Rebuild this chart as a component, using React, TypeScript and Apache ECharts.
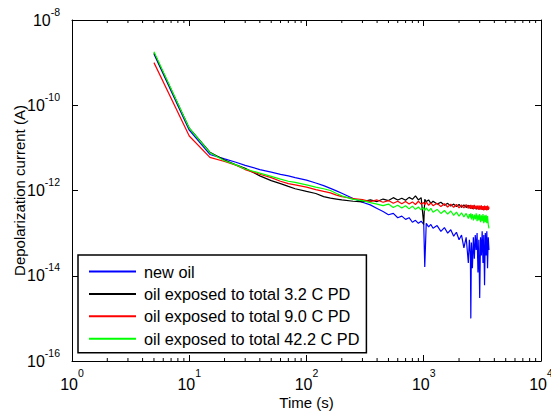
import React, { useEffect, useRef } from 'react';
import * as echarts from 'echarts';

const times = [5, 10, 15, 20, 25, 30, 40, 50, 60, 70, 80, 100, 120, 140, 160, 180, 200, 250, 300, 350, 400, 450, 500, 550, 600, 650, 700, 750, 800, 850, 900, 950, 1000, 1020, 1050, 1100, 1150, 1200, 1300, 1400, 1500, 1600, 1700, 1800, 1900, 2000, 2100, 2200, 2300, 2400, 2450, 2500, 2520, 2550, 2600, 2650, 2700, 2750, 2800, 2850, 2900, 2950, 3000, 3050, 3100, 3150, 3200, 3250, 3300, 3350, 3400, 3450, 3500, 3550, 3600];

const newOil = [1.6e-9, 2.6e-11, 7.0e-12, 5.5e-12, 4.6e-12, 3.9e-12, 3.1e-12, 2.7e-12, 2.4e-12, 2.2e-12, 2.0e-12, 1.75e-12, 1.5e-12, 1.3e-12, 1.12e-12, 9.8e-13, 8.6e-13, 6.5e-13, 5.3e-13, 4.6e-13, 3.8e-13, 3.2e-13, 2.7e-13, 2.9e-13, 2.3e-13, 2.5e-13, 2.1e-13, 2.3e-13, 1.8e-13, 2.0e-13, 1.7e-13, 1.9e-13, 1.6e-13, 1.6e-14, 1.7e-13, 1.4e-13, 1.6e-13, 1.3e-13, 1.5e-13, 1.1e-13, 1.35e-13, 1.0e-13, 1.2e-13, 8.5e-14, 1.05e-13, 7e-14, 9e-14, 4.5e-14, 8e-14, 2.0e-14, 7e-14, 3e-14, 1.0e-15, 6e-14, 1.5e-14, 8e-14, 2.5e-14, 9e-14, 4e-14, 1.0e-13, 1.2e-14, 7e-14, 3e-15, 8e-14, 3e-14, 1.1e-13, 2e-14, 9e-14, 6e-15, 1.0e-13, 3e-14, 1.1e-13, 1.5e-14, 8e-14, 4e-14];

const pd32 = [1.7e-9, 2.9e-11, 7.9e-12, 5.2e-12, 4.0e-12, 3.3e-12, 2.2e-12, 1.7e-12, 1.45e-12, 1.25e-12, 1.1e-12, 9.5e-13, 8.5e-13, 7.2e-13, 6.6e-13, 6.3e-13, 6.0e-13, 5.6e-13, 5.4e-13, 6.0e-13, 5.5e-13, 6.3e-13, 5.8e-13, 6.8e-13, 6.0e-13, 6.6e-13, 5.9e-13, 6.9e-13, 6.2e-13, 7.5e-13, 6.0e-13, 6.8e-13, 1.6e-13, 6.2e-13, 5.5e-13, 6.0e-13, 5.0e-13, 5.6e-13, 4.8e-13, 5.3e-13, 4.5e-13, 5.0e-13, 4.3e-13, 4.8e-13, 4.2e-13, 4.7e-13, 4.0e-13, 4.6e-13, 4.0e-13, 4.5e-13, 3.9e-13, 4.4e-13, 3.8e-13, 4.3e-13, 3.7e-13, 4.4e-13, 3.8e-13, 4.2e-13, 3.6e-13, 4.3e-13, 3.7e-13, 4.1e-13, 3.6e-13, 4.2e-13, 3.6e-13, 4.1e-13, 3.5e-13, 4.2e-13, 3.6e-13, 4.0e-13, 3.5e-13, 4.1e-13, 3.6e-13, 4.0e-13, 3.7e-13];

const pd90 = [1.0e-9, 1.9e-11, 6.0e-12, 4.8e-12, 3.9e-12, 3.1e-12, 2.4e-12, 2.0e-12, 1.65e-12, 1.45e-12, 1.35e-12, 1.2e-12, 1.05e-12, 9.5e-13, 8.8e-13, 7.8e-13, 7.2e-13, 6.5e-13, 6.1e-13, 5.5e-13, 6.0e-13, 5.3e-13, 5.8e-13, 5.0e-13, 5.6e-13, 4.9e-13, 5.5e-13, 4.8e-13, 5.4e-13, 4.7e-13, 5.6e-13, 4.8e-13, 5.2e-13, 4.6e-13, 5.4e-13, 4.5e-13, 5.1e-13, 4.4e-13, 5.0e-13, 4.2e-13, 4.9e-13, 4.1e-13, 4.8e-13, 4.0e-13, 4.7e-13, 3.9e-13, 4.6e-13, 3.9e-13, 4.7e-13, 3.8e-13, 4.5e-13, 3.7e-13, 4.6e-13, 3.8e-13, 4.5e-13, 3.6e-13, 4.6e-13, 3.7e-13, 4.4e-13, 3.6e-13, 4.5e-13, 3.5e-13, 4.4e-13, 3.6e-13, 4.5e-13, 3.5e-13, 4.3e-13, 3.4e-13, 4.4e-13, 3.5e-13, 4.3e-13, 3.4e-13, 4.4e-13, 3.5e-13, 4.2e-13];

const pd422 = [1.8e-9, 2.9e-11, 7.7e-12, 5.0e-12, 4.0e-12, 3.2e-12, 2.55e-12, 2.15e-12, 1.85e-12, 1.65e-12, 1.55e-12, 1.35e-12, 1.2e-12, 1.1e-12, 1.0e-12, 8.5e-13, 7.5e-13, 6.2e-13, 5.8e-13, 5.2e-13, 4.8e-13, 4.4e-13, 4.8e-13, 4.0e-13, 4.5e-13, 3.9e-13, 4.4e-13, 3.7e-13, 4.3e-13, 3.6e-13, 4.1e-13, 3.5e-13, 4.0e-13, 3.4e-13, 3.9e-13, 3.3e-13, 3.8e-13, 3.1e-13, 3.6e-13, 2.9e-13, 3.4e-13, 2.8e-13, 3.3e-13, 2.6e-13, 3.1e-13, 2.5e-13, 3.0e-13, 2.4e-13, 2.9e-13, 2.2e-13, 2.8e-13, 2.3e-13, 2.9e-13, 2.1e-13, 2.8e-13, 2.0e-13, 2.7e-13, 2.1e-13, 2.9e-13, 1.9e-13, 2.7e-13, 2.0e-13, 2.8e-13, 1.8e-13, 2.6e-13, 1.9e-13, 2.8e-13, 1.7e-13, 2.6e-13, 1.8e-13, 2.7e-13, 1.7e-13, 2.5e-13, 1.6e-13, 1.3e-13];

const seriesNames = ['new oil', 'oil exposed to total 3.2 C PD', 'oil exposed to total 9.0 C PD', 'oil exposed to total 42.2 C PD'];
const seriesValues = [newOil, pd32, pd90, pd422];
const seriesColors = ['#0000ff', '#000000', '#ff0000', '#00ff00'];

const xName = 'Time (s)';
const yName = 'Depolarization current (A)';

// axis ranges and tick positions
const xMin = 1;
const xMax = 10000;
const yMin = 1e-16;
const yMax = 1e-8;
const xMajorTicks = [1, 10, 100, 1000, 10000];
const xMinorMultipliers = [2, 3, 4, 5, 6, 7, 8, 9];

const FONT = '"Liberation Sans", Arial, Helvetica, sans-serif';

const supLabel = (v: number) => `{b|10}{s|${Math.round(Math.log10(v))}}`;
const richX = {
  b: { fontSize: 16, lineHeight: 34, fontFamily: FONT, color: '#000' },
  s: { fontSize: 10.5, lineHeight: 8, verticalAlign: 'top', fontFamily: FONT, color: '#000' },
};
const richY = {
  b: { fontSize: 16, lineHeight: 28, fontFamily: FONT, color: '#000' },
  s: { fontSize: 10.5, lineHeight: 12, verticalAlign: 'top', fontFamily: FONT, color: '#000' },
};

export default function App() {
  const ref = useRef<HTMLDivElement>(null);
  useEffect(() => {
    if (!ref.current) return;
    const chart = echarts.init(ref.current, undefined, { renderer: 'svg' });
    const axisLine = { show: true, onZero: false, lineStyle: { color: '#000', width: 1 } };
    const xBase = {
      type: 'log', logBase: 10, min: xMin, max: xMax, interval: 1,
      axisLine,
      axisTick: { show: true, inside: true, length: 6, lineStyle: { color: '#000', width: 1 } },
      splitLine: { show: false },
    };
    const yBase = {
      type: 'log', logBase: 10, min: yMin, max: yMax, interval: 2,
      axisLine,
      axisTick: { show: true, inside: true, length: 6, lineStyle: { color: '#000', width: 1 } },
      splitLine: { show: false },
    };

    const xTickData: number[][] = [];
    xMajorTicks.forEach((t, i) => {
      if (i < xMajorTicks.length - 1) xMinorMultipliers.forEach((m) => xTickData.push([m * t, yMin]));
    });

    chart.setOption({
      animation: false,
      backgroundColor: '#fff',
      grid: { left: 72, right: 10, top: 20, bottom: 53, outerBoundsMode: 'none', containLabel: false },
      legend: {
        orient: 'vertical', left: 78, top: 255,
        backgroundColor: '#fff', borderColor: '#000', borderWidth: 1.5, borderRadius: 0,
        padding: [8.5, 7, 6, 10],
        itemWidth: 47, itemHeight: 14, itemGap: 6.4,
        itemStyle: { opacity: 0 },
        textStyle: { fontSize: 16.3, lineHeight: 16, fontFamily: FONT, color: '#000', padding: [0, 0, 0, 3] },
        data: seriesNames,
      },
      xAxis: [
        {
          ...xBase, position: 'bottom',
          name: xName, nameLocation: 'middle', nameGap: 34, nameMoveOverlap: false,
          nameTextStyle: { fontSize: 15, fontFamily: FONT, color: '#000' },
          axisLabel: { show: true, margin: 6, formatter: supLabel, rich: richX },
        },
        { ...xBase, position: 'top', axisLabel: { show: false } },
      ],
      yAxis: [
        {
          ...yBase, position: 'left',
          name: yName, nameLocation: 'middle', nameGap: 45, nameMoveOverlap: false,
          nameTextStyle: { fontSize: 15, fontFamily: FONT, color: '#000' },
          axisLabel: { show: true, margin: 12, formatter: supLabel, rich: richY },
        },
        { ...yBase, position: 'right', axisLabel: { show: false } },
      ],
      series: [
        ...seriesNames.map((name, i) => ({
          name, type: 'line', xAxisIndex: 0, yAxisIndex: 0,
          symbol: 'none', showSymbol: false,
          lineStyle: { color: seriesColors[i], width: 1.2 },
          itemStyle: { color: seriesColors[i] },
          data: times.map((t, j) => [t, seriesValues[i][j]]),
        })),
        {
          name: 'xminor', type: 'custom', silent: true, clip: false, z: 3,
          xAxisIndex: 0, yAxisIndex: 0,
          data: xTickData,
          renderItem: (params: any, api: any) => {
            const pb = api.coord([api.value(0), yMin]);
            const pt = api.coord([api.value(0), yMax]);
            return {
              type: 'group',
              children: [
                { type: 'line', shape: { x1: pb[0], y1: pb[1], x2: pb[0], y2: pb[1] - 3 }, style: { stroke: '#000', lineWidth: 1 } },
                { type: 'line', shape: { x1: pt[0], y1: pt[1], x2: pt[0], y2: pt[1] + 3 }, style: { stroke: '#000', lineWidth: 1 } },
              ],
            };
          },
        },
      ],
    } as any);
    return () => chart.dispose();
  }, []);
  return <div ref={ref} style={{ position: 'fixed', left: 0, top: 0, width: 551, height: 414 }} />;
}
